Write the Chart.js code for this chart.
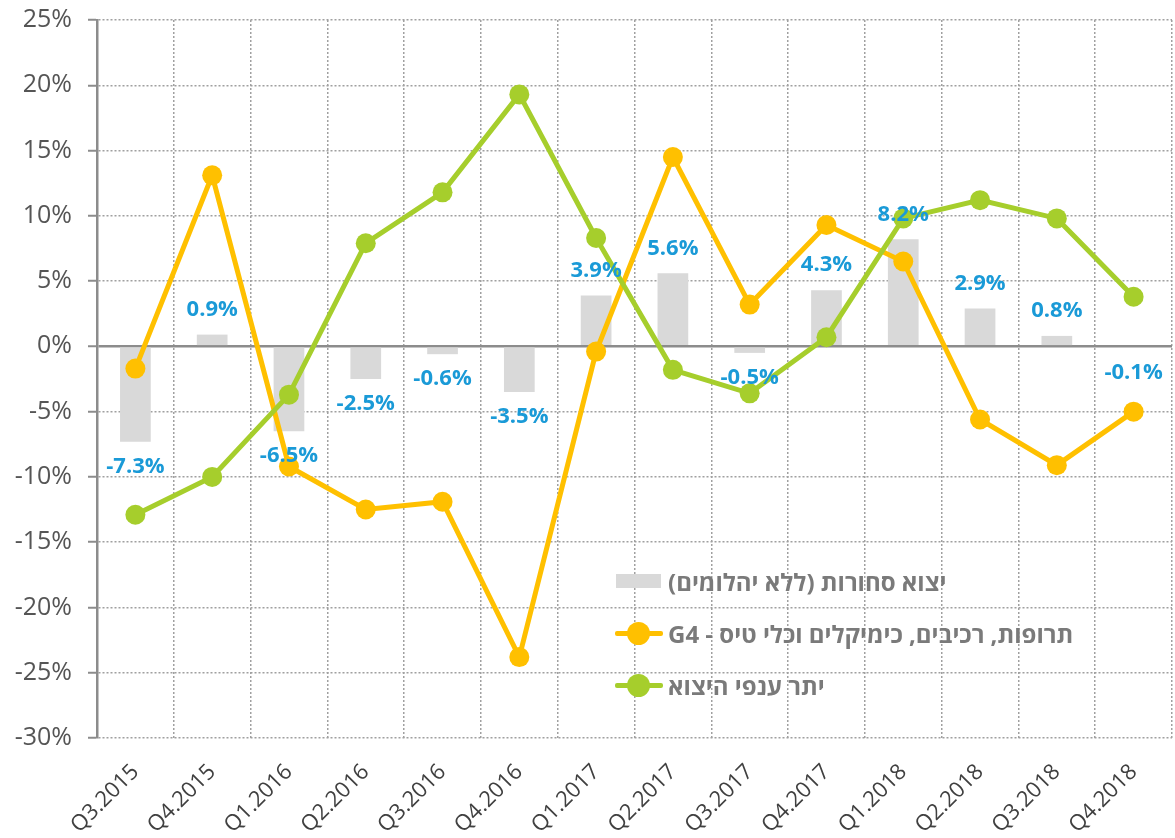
<!DOCTYPE html>
<html lang="he">
<head>
    <meta charset="UTF-8">
    <title>Export chart</title>
    <script src="https://cdn.jsdelivr.net/npm/chart.js"></script>
    <style>
        body { margin: 0; overflow: hidden; background: #fff; }
        #wrap { position: relative; width: 1182px; height: 838px; }
        #legend { position: absolute; left: 613px; top: 555px; font-family: "Open Sans", "DejaVu Sans", sans-serif; }
        .row { display: flex; align-items: center; height: 52px; }
        .mk { position: relative; width: 50px; height: 24px; margin-right: 5px; }
        .txt { font-size: 24px; font-weight: bold; color: #7a7a7a; white-space: nowrap; }
    </style>
</head>
<body>
<div id="wrap">
    <canvas id="chart" width="1182" height="838"></canvas>
    <div id="legend"></div>
</div>
<script>
// categories
const quarters = ['Q3.2015', 'Q4.2015', 'Q1.2016', 'Q2.2016', 'Q3.2016', 'Q4.2016', 'Q1.2017',
                  'Q2.2017', 'Q3.2017', 'Q4.2017', 'Q1.2018', 'Q2.2018', 'Q3.2018', 'Q4.2018'];

// series (% change)
const goodsExport = [-7.3, 0.9, -6.5, -2.5, -0.6, -3.5, 3.9, 5.6, -0.5, 4.3, 8.2, 2.9, 0.8, -0.1];
const g4Export    = [-1.7, 13.1, -9.2, -12.5, -11.9, -23.8, -0.4, 14.5, 3.2, 9.3, 6.5, -5.6, -9.1, -5.0];
const otherExport = [-12.9, -10.0, -3.7, 7.9, 11.8, 19.3, 8.3, -1.8, -3.6, 0.7, 9.8, 11.2, 9.8, 3.8];

const seriesNames = ['יצוא סחורות (ללא יהלומים)', 'תרופות, רכיבים, כימיקלים וכלי טיס - G4', 'יתר ענפי היצוא'];

const FONT = '"Open Sans", "DejaVu Sans", sans-serif';
const GREY_BAR = '#d9d9d9', ORANGE = '#ffc000', GREEN = '#a6ce2c', LABEL_BLUE = '#1a9ad7';

// blue value labels on the bars
const barLabels = {
    id: 'barLabels',
    afterDatasetsDraw(chart) {
        const meta = chart.getDatasetMeta(0);
        const ctx = chart.ctx;
        ctx.save();
        ctx.font = 'bold 22px ' + FONT;
        ctx.fillStyle = LABEL_BLUE;
        ctx.textAlign = 'center';
        ctx.textBaseline = 'middle';
        meta.data.forEach((el, i) => {
            const v = goodsExport[i];
            const y = v >= 0 ? el.y - 25 : el.y + 25;
            ctx.fillText(v.toFixed(1) + '%', el.x, y);
        });
        ctx.restore();
    }
};

const ctx = document.getElementById('chart').getContext('2d');
const chart = new Chart(ctx, {
    data: {
        labels: quarters,
        datasets: [{
            type: 'bar',
            label: seriesNames[0],
            data: goodsExport,
            backgroundColor: GREY_BAR,
            barPercentage: 0.4,
            categoryPercentage: 1,
            order: 3
        }, {
            type: 'line',
            label: seriesNames[1],
            data: g4Export,
            borderColor: ORANGE,
            backgroundColor: ORANGE,
            borderWidth: 5,
            pointRadius: 10,
            pointBorderWidth: 0,
            pointBackgroundColor: ORANGE,
            tension: 0,
            order: 2
        }, {
            type: 'line',
            label: seriesNames[2],
            data: otherExport,
            borderColor: GREEN,
            backgroundColor: GREEN,
            borderWidth: 5,
            pointRadius: 10,
            pointBorderWidth: 0,
            pointBackgroundColor: GREEN,
            tension: 0,
            order: 1
        }]
    },
    options: {
        responsive: false,
        animation: false,
        layout: { padding: { top: 20, right: 3, left: 0, bottom: 0 } },
        plugins: {
            legend: { display: false },
            tooltip: { enabled: false }
        },
        scales: {
            x: {
                offset: true,
                grid: {
                    offset: true,
                    color: '#a0a0a0',
                    lineWidth: 1.5,
                    drawTicks: false
                },
                border: { display: false, dash: [2, 2] },
                ticks: {
                    minRotation: 45,
                    maxRotation: 45,
                    padding: 21,
                    color: '#404040',
                    font: { family: FONT, size: 22 }
                },
                afterFit(scale) {
                    scale.height = 100;
                    scale.paddingLeft = 0;
                    scale.paddingRight = 0;
                }
            },
            y: {
                min: -30,
                max: 25,
                ticks: {
                    stepSize: 5,
                    padding: 16,
                    color: '#555555',
                    font: { family: FONT, size: 25 },
                    callback: v => v + '%'
                },
                grid: {
                    color: c => (c.tick && c.tick.value === 0) ? '#8c8c8c' : '#a0a0a0',
                    lineWidth: c => (c.tick && c.tick.value === 0) ? 2.5 : 1.5,
                    tickLength: 9,
                    tickColor: '#8c8c8c',
                    tickWidth: 2,
                    tickBorderDash: []
                },
                border: {
                    display: true,
                    color: '#8c8c8c',
                    width: 2.5,
                    dash: c => (c.tick && c.tick.value === 0) ? [] : [2, 2]
                },
                afterFit(scale) {
                    scale.width = 97;
                    scale.paddingTop = 0;
                    scale.paddingBottom = 0;
                }
            }
        }
    },
    plugins: [barLabels]
});

// legend drawn inside the plot area, built from the datasets
const legend = document.getElementById('legend');
chart.data.datasets.forEach(ds => {
    const row = document.createElement('div');
    row.className = 'row';
    const mk = document.createElement('div');
    mk.className = 'mk';
    if (ds.type === 'bar') {
        mk.innerHTML = `<div style="position:absolute;left:3px;top:5px;width:45px;height:14px;background:${ds.backgroundColor}"></div>`;
    } else {
        mk.innerHTML = `<div style="position:absolute;left:2px;top:10px;width:48px;height:5px;border-radius:2px;background:${ds.borderColor}"></div>` +
                       `<div style="position:absolute;left:14px;top:1px;width:23px;height:23px;border-radius:50%;background:${ds.borderColor}"></div>`;
    }
    const txt = document.createElement('span');
    txt.className = 'txt';
    txt.dir = 'rtl';
    txt.textContent = ds.label;
    row.appendChild(mk);
    row.appendChild(txt);
    legend.appendChild(row);
});
</script>
</body>
</html>
